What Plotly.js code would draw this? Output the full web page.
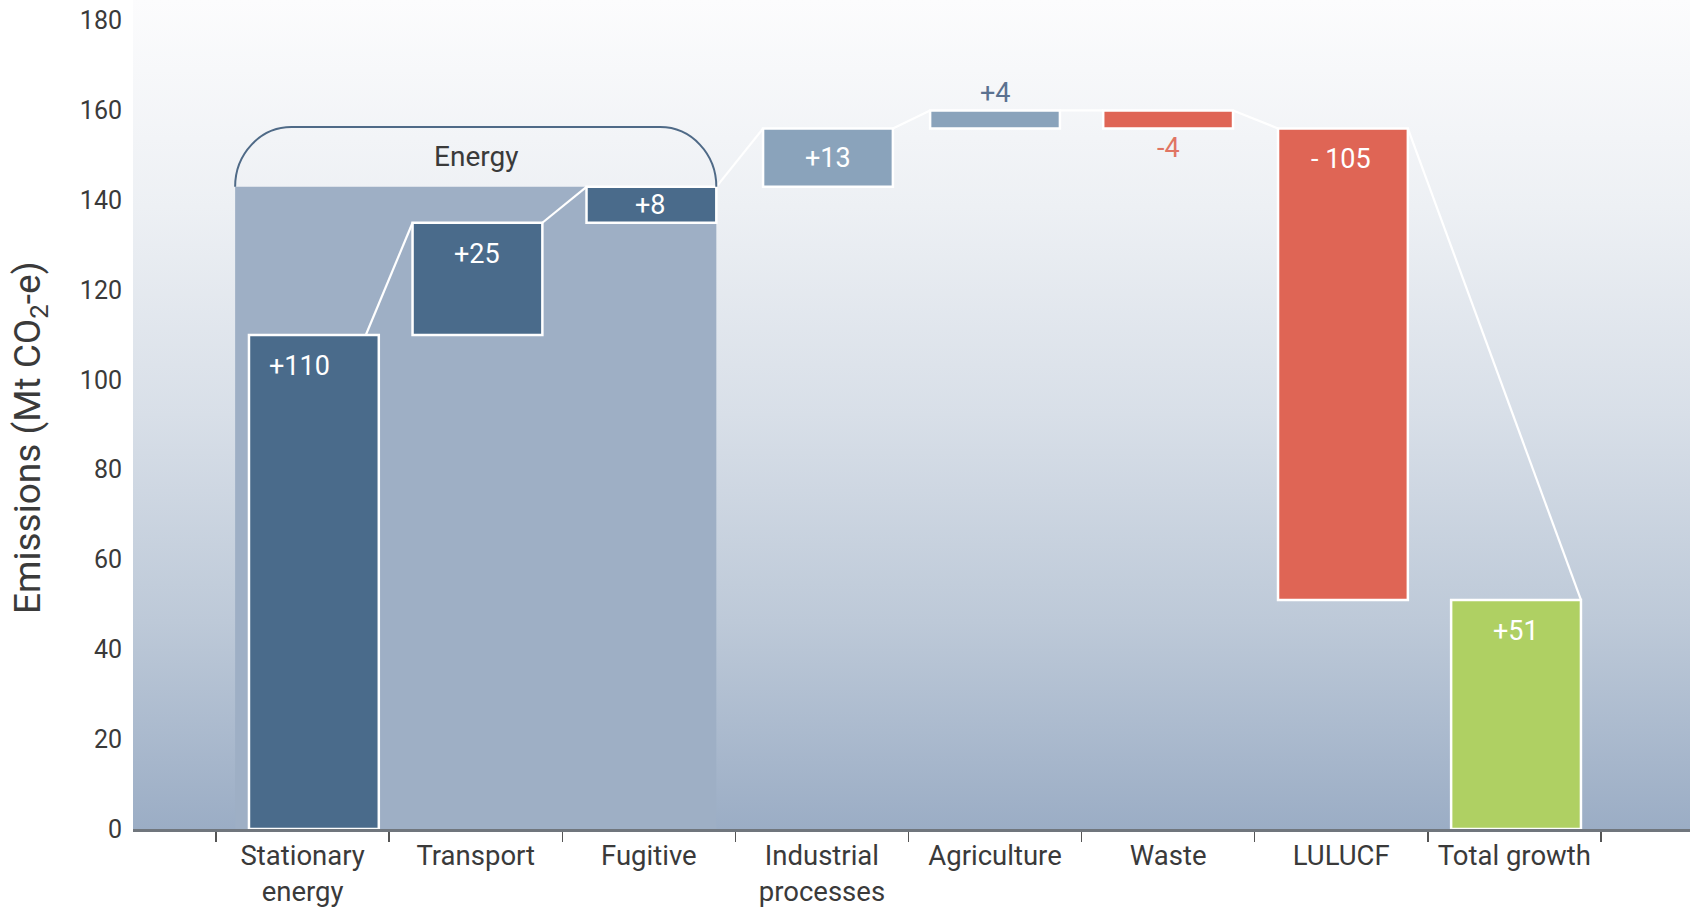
<!DOCTYPE html>
<html>
<head>
<meta charset="utf-8">
<script src="https://cdn.plot.ly/plotly-3.0.1.min.js"></script>
<style>
  html, body { margin: 0; padding: 0; background: #ffffff; }
  #chart { width: 1696px; height: 907px; }
</style>
</head>
<body>
<div id="chart"></div>
<script>
// ---------------- data ----------------
const categories  = ['Stationary energy', 'Transport', 'Fugitive', 'Industrial processes',
                     'Agriculture', 'Waste', 'LULUCF', 'Total growth'];
const tickLabels  = ['Stationary<br>energy', 'Transport', 'Fugitive', 'Industrial<br>processes',
                     'Agriculture', 'Waste', 'LULUCF', 'Total growth'];
const changes     = [110, 25, 8, 13, 4, -4, -105];          // Mt CO2-e, sector contributions
const totalGrowth = 51;                                      // Mt CO2-e
const valueLabels = ['+110', '+25', '+8', '+13', '+4', '-4', '- 105', '+51'];
const energySectors = ['Stationary energy', 'Transport', 'Fugitive'];
const groupLabel  = 'Energy';
const yTickValues = [0, 20, 40, 60, 80, 100, 120, 140, 160, 180];
const yTitle      = 'Emissions (Mt CO<sub>2</sub>-e)';

// ---------------- styles ----------------
const W = 1696, H = 907;
const MARGIN = { l: 133, r: 6, t: 0, b: 78 };
const X_RANGE = [-0.98, 8.015];
const Y_RANGE = [0, 184.6];
const BAR_W = 0.75;
const BAR_SHIFT   = [0.065, 0.01, 0.015, 0.035, 0, 0, 0.01, 0.01];   // small horizontal nudges (style)
const LABEL_SHIFT = [-0.02, 0.01, 0.01, 0.035, 0, 0, 0, 0.01];
const barColors = ['#4a6b8b', '#4a6b8b', '#4a6b8b', '#8aa3bb', '#8aa3bb',
                   '#df6555', '#df6555', '#afd063'];
const FONT = 'Roboto, "Open Sans", sans-serif';
const TEXT_COL = '#3a3a3a';
const PX_PER_UNIT = (H - MARGIN.t - MARGIN.b) / (Y_RANGE[1] - Y_RANGE[0]);

// ---------------- derived geometry from data ----------------
const bases = [], lens = [];
let running = 0;
changes.forEach(v => { bases.push(running); lens.push(v); running += v; });
bases.push(0); lens.push(totalGrowth);
const tops    = bases.map((b, i) => Math.max(b, b + lens[i]));
const bottoms = bases.map((b, i) => Math.min(b, b + lens[i]));
const leftEdge  = i => i + BAR_SHIFT[i] - BAR_W / 2;
const rightEdge = i => i + BAR_SHIFT[i] + BAR_W / 2;

// background gradient (image behind the plot area)
const gradSvg = "<svg xmlns='http://www.w3.org/2000/svg' width='10' height='200' preserveAspectRatio='none'>" +
  "<defs><linearGradient id='g' x1='0' y1='0' x2='0' y2='1'>" +
  "<stop offset='0' stop-color='#fcfcfd'/>" +
  "<stop offset='0.25' stop-color='#edf0f4'/>" +
  "<stop offset='0.5' stop-color='#d8dfe8'/>" +
  "<stop offset='0.75' stop-color='#bdc9d8'/>" +
  "<stop offset='1' stop-color='#9badc5'/>" +
  "</linearGradient></defs><rect x='0' y='0' width='10' height='200' fill='url(#g)'/></svg>";
const gradSrc = 'data:image/svg+xml;charset=utf-8,' + encodeURIComponent(gradSvg);

const shapes = [];
// Energy group shaded region
const eIdx = energySectors.map(s => categories.indexOf(s));
const eFirst = Math.min(...eIdx), eLast = Math.max(...eIdx);
const energyTotal = eIdx.reduce((s, i) => s + changes[i], 0);
const ex0 = eFirst - BAR_W / 2 - 0.015;
const ex1 = rightEdge(eLast);
shapes.push({ type: 'rect', xref: 'x', yref: 'y', x0: ex0, x1: ex1, y0: 0, y1: energyTotal,
  fillcolor: '#9eafc5', line: { width: 0 }, layer: 'below' });

// connectors (white lines joining bar tops)
for (let i = 0; i < categories.length - 1; i++) {
  const isLast = (i + 1 === categories.length - 1);
  shapes.push({ type: 'line', xref: 'x', yref: 'y',
    x0: rightEdge(i) - (i === 0 ? 0.075 : 0), y0: tops[i],
    x1: isLast ? rightEdge(i + 1) : leftEdge(i + 1), y1: tops[i + 1],
    line: { color: '#ffffff', width: 2.2 }, layer: 'below' });
}

// Energy bracket (rounded)
const BR_H = 13.3, RX = 0.325, K = 0.5523;
const yb = energyTotal, yt = energyTotal + BR_H;
const bracketPath =
  `M ${ex0},${yb} C ${ex0},${yb + K * BR_H} ${ex0 + RX * (1 - K)},${yt} ${ex0 + RX},${yt} ` +
  `L ${ex1 - RX},${yt} C ${ex1 - RX * (1 - K)},${yt} ${ex1},${yb + K * BR_H} ${ex1},${yb}`;
shapes.push({ type: 'path', xref: 'x', yref: 'y', path: bracketPath,
  line: { color: '#4f6a87', width: 2 }, layer: 'above' });

// ---------------- annotations ----------------
const annotations = [];
lens.forEach((v, i) => {
  const hPx = Math.abs(v) * PX_PER_UNIT;
  const isTotal = i === lens.length - 1;
  const xc = i + LABEL_SHIFT[i];
  if (hPx >= 25) {
    annotations.push({ x: xc, y: tops[i], xref: 'x', yref: 'y',
      text: valueLabels[i], showarrow: false, yanchor: 'middle',
      yshift: -Math.min(31, hPx / 2),
      font: { family: FONT, size: 27, color: '#ffffff' } });
  } else if (v > 0 && !isTotal) {
    annotations.push({ x: xc, y: tops[i], xref: 'x', yref: 'y',
      text: valueLabels[i], showarrow: false, yanchor: 'middle', yshift: 17,
      font: { family: FONT, size: 27, color: '#5b7190' } });
  } else {
    annotations.push({ x: xc, y: bottoms[i], xref: 'x', yref: 'y',
      text: valueLabels[i], showarrow: false, yanchor: 'middle', yshift: -20,
      font: { family: FONT, size: 27, color: '#e07563' } });
  }
});
// group label
annotations.push({ x: (ex0 + ex1) / 2, y: energyTotal + BR_H / 2, xref: 'x', yref: 'y',
  text: groupLabel, showarrow: false, yanchor: 'middle', yshift: 0,
  font: { family: FONT, size: 28, color: TEXT_COL } });
// y axis title
annotations.push({ x: 0, y: 0.4717, xref: 'paper', yref: 'paper', xshift: -103,
  text: yTitle, textangle: -90, showarrow: false, xanchor: 'center', yanchor: 'middle',
  font: { family: FONT, size: 37, color: TEXT_COL } });

// ---------------- traces ----------------
const barTrace = {
  type: 'bar',
  x: tickLabels,
  y: lens,
  base: bases,
  width: BAR_W,
  offset: BAR_SHIFT.map(s => s - BAR_W / 2),
  marker: { color: barColors, line: { color: '#ffffff', width: 2.5 } },
  hoverinfo: 'skip',
  showlegend: false
};

const layout = {
  width: W, height: H,
  margin: MARGIN,
  paper_bgcolor: '#ffffff',
  plot_bgcolor: 'rgba(0,0,0,0)',
  showlegend: false,
  font: { family: FONT, color: TEXT_COL },
  xaxis: {
    type: 'category',
    range: X_RANGE,
    showgrid: false, zeroline: false,
    showline: true, linecolor: '#70767d', linewidth: 3,
    ticks: 'outside', tickson: 'boundaries', ticklen: 10, tickwidth: 1.5, tickcolor: '#555555',
    tickfont: { family: FONT, size: 27.5, color: TEXT_COL },
    fixedrange: true
  },
  yaxis: {
    range: Y_RANGE,
    tickmode: 'array', tickvals: yTickValues, ticktext: yTickValues.map(String),
    showgrid: false, zeroline: false, showline: false,
    ticks: '', ticklabelstandoff: 10,
    tickfont: { family: FONT, size: 25, color: TEXT_COL },
    fixedrange: true
  },
  images: [{ source: gradSrc, xref: 'paper', yref: 'paper', x: 0, y: 1, sizex: 1, sizey: 1,
             xanchor: 'left', yanchor: 'top', sizing: 'stretch', layer: 'below' }],
  shapes: shapes,
  annotations: annotations
};

Plotly.newPlot('chart', [barTrace], layout, { displayModeBar: false, staticPlot: true });
</script>
</body>
</html>
